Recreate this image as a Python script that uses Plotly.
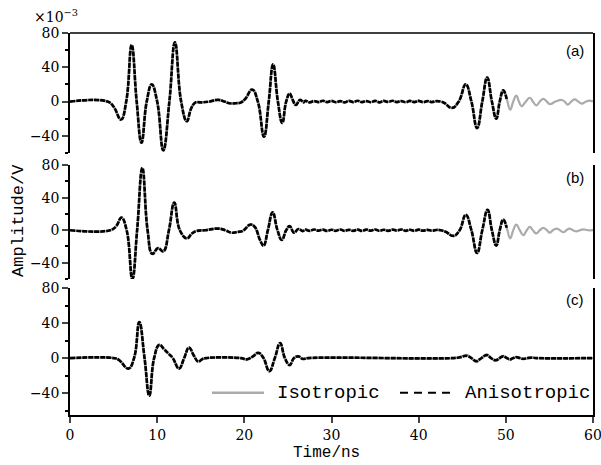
import plotly.graph_objects as go

# ---------------- data (amplitude in 1e-3 V, time in ns) ----------------
# Panel (a): anisotropic trace (0 - 50.1 ns); isotropic identical there, plus a tail to 60 ns
a_time = [0, 4.3, 5.0, 5.85, 6.45, 7.07, 7.65, 8.2, 8.8, 9.37, 10.0, 10.7, 11.4, 12.04, 12.75,
          13.4, 13.9, 14.4, 15.0, 16.0, 17.0, 17.7, 18.3, 19.0, 19.6, 20.1, 20.9, 21.55, 22.25,
          22.8, 23.3, 23.85, 24.35, 24.8, 25.2, 25.55, 25.9, 26.4, 26.8]
a_wave = [0, 0, -6, -21, 0, 66, 0, -48, 0, 20, 0, -57, 0, 69, 0,
          -23, -8, -1, -1, 0, 2, 0, -2, -2, -1, 3, 14, 0, -41,
          0, 43.5, 0, -25, 0, 9.4, 2, -4, 2, -1]
a_noise_time = [27.0, 27.5, 28.0, 28.5, 29.0, 29.5, 30.0, 30.5, 31.0, 31.5, 32.0, 32.5, 33.0, 33.5,
                34.0, 34.5, 35.0, 35.5, 36.0, 36.5, 37.0, 37.5, 38.0, 38.5, 39.0, 39.5, 40.0, 40.5,
                41.0, 41.5, 42.0, 42.5]
a_noise = [0.8, -0.9, 0.6, -0.7, 0.9, -0.6, 0.7, -0.8, 0.5, -0.9, 0.8, -0.6, 0.9, -0.7, 0.6, -0.8,
           0.7, -0.9, 0.8, -0.5, 0.9, -0.7, 0.6, -0.8, 0.7, -0.6, 0.8, -0.7, 0.5, -0.6, 0.4, 0]
a_late_time = [43.0, 43.8, 44.6, 45.4, 46.05, 46.7, 47.3, 47.86, 48.4, 48.9, 49.3, 49.7, 50.1]
a_late = [-2, -7.5, 0, 20, 0, -31, 0, 28, 0, -20, 0, 13, 3]
a_tail_time = [50.5, 50.85, 51.2, 51.5, 51.8, 52.3, 52.75, 53.1, 53.5, 53.9, 54.3, 54.7, 55.05,
               55.7, 56.4, 56.75, 57.1, 57.5, 57.9, 58.3, 58.7, 59.2, 59.6, 60.0]
a_tail = [-9.5, 0, 7, 0, -5.5, 0, 4.4, 0, -4.4, 0, 3.2, 0, -3,
          0, 1.8, 0, -3.5, 0, 2.5, 0, -2.4, 0, 1, 0]

# Panel (b)
b_time = [0, 4.6, 5.3, 5.9, 6.5, 7.15, 7.7, 8.3, 8.9, 9.45, 10.1, 10.7, 11.35, 11.96, 12.6,
          13.4, 14.0, 14.5, 15.5, 17.0, 17.8, 18.5, 19.3, 19.8, 20.7, 21.2, 21.8, 22.2, 22.7,
          23.25, 23.8, 24.3, 24.8, 25.2, 25.7, 26.2, 26.7]
b_wave = [0, 0, 5, 15.5, 0, -60, 0, 76.5, 0, -29, -22, -26, 0, 34, 0,
          -10, -4, -1, 0, 2, 0, -3, -2, -1, 7, 4, -12, -19, 0,
          22, 0, -12, 0, 5, -3, 1.5, -1]
b_noise_time = [27.0, 27.5, 28.0, 28.5, 29.0, 29.5, 30.0, 30.5, 31.0, 31.5, 32.0, 32.5, 33.0, 33.5,
                34.0, 34.5, 35.0, 35.5, 36.0, 36.5, 37.0, 37.5, 38.0, 38.5, 39.0, 39.5, 40.0, 40.5,
                41.0, 41.5, 42.0, 42.5]
b_noise = [0.7, -0.8, 0.9, -0.6, 0.8, -0.9, 0.6, -0.7, 0.9, -0.8, 0.5, -0.7, 0.8, -0.9, 0.7, -0.6,
           0.9, -0.8, 0.6, -0.7, 0.8, -0.5, 0.9, -0.7, 0.6, -0.8, 0.7, -0.6, 0.5, -0.5, 0.3, 0]
b_late_time = [43.1, 44.0, 44.7, 45.4, 46.05, 46.7, 47.3, 47.9, 48.4, 48.9, 49.3, 49.7, 50.1]
b_late = [-2, -7, 0, 19, 0, -28, 0, 25, 0, -19, 0, 13, 3]
b_tail_time = [50.5, 50.85, 51.2, 51.6, 52.0, 52.4, 52.75, 53.1, 53.5, 53.9, 54.3, 54.7, 55.05,
               55.4, 55.8, 56.2, 56.6, 56.95, 57.3, 57.7, 58.1, 58.5, 58.9, 59.4, 60.0]
b_tail = [-10, 0, 7, 0, -6, 0, 4, 0, -4, 0, 3, 0, -3,
          0, 2, 0, -2.5, 0, 2, 0, -1.5, 0, 1, 0, 0]

# Panel (c)
c_time = [0, 5.0, 5.6, 6.7, 7.35, 7.95, 8.55, 9.1, 9.65, 10.25, 10.8, 11.3, 11.8, 12.5, 13.1,
          13.65, 14.2, 14.7, 15.2, 15.6, 19.6, 20.3, 21.0, 21.6, 22.2, 22.86, 23.5, 24.1, 24.65,
          25.2, 25.7, 26.2, 26.7, 27.3, 44.0]
c_wave = [0, 0, -2, -12, 0, 41, 0, -43, 0, 15, 10, 5, 0, -12, 0,
          12, 3, -4, -1, 0, 0, -1.5, 2, 6, 0, -15, 0, 17, 0,
          -8, 0, 2, -1, 0, 0]
c_ripple_time = [44.8, 45.5, 46.05, 46.6, 47.2, 47.8, 48.3, 48.85, 49.3, 49.7, 50.1, 50.5,
                 50.85, 51.2, 51.6, 52.0, 52.5, 53.0, 53.5, 60.0]
c_ripple_aniso = [1, 2.6, 0, -3.5, 0, 3.4, 0, -2.5, 0, 2, 0, -1.5,
                  0, 1, 0, -1, 0, 0.5, 0, 0]
c_ripple_iso = [1.3, 3.6, 0, -4.5, 0, 4.3, 0, -3.2, 0, 2.5, 0, -1.8,
                0, 1.2, 0, -1, 0, 0.5, 0, 0]

panel_labels = ["(a)", "(b)", "(c)"]
y_ticks = [-40, 0, 40, 80]
x_ticks = [0, 10, 20, 30, 40, 50, 60]

# ---------------- assemble series ----------------
a_aniso_t = a_time + a_noise_time + a_late_time
a_aniso_v = a_wave + a_noise + a_late
a_iso_t = a_aniso_t + a_tail_time
a_iso_v = a_aniso_v + a_tail

b_aniso_t = b_time + b_noise_time + b_late_time
b_aniso_v = b_wave + b_noise + b_late
b_iso_t = b_aniso_t + b_tail_time
b_iso_v = b_aniso_v + b_tail

c_aniso_t = c_time + c_ripple_time
c_aniso_v = c_wave + c_ripple_aniso
c_iso_t = c_time + c_ripple_time
c_iso_v = c_wave + c_ripple_iso

GRAY = "#ababab"
BLACK = "#000000"

fig = go.Figure()
series = [("y", a_iso_t, a_iso_v, a_aniso_t, a_aniso_v),
          ("y2", b_iso_t, b_iso_v, b_aniso_t, b_aniso_v),
          ("y3", c_iso_t, c_iso_v, c_aniso_t, c_aniso_v)]
for yax, it, iv, at, av in series:
    fig.add_trace(go.Scatter(x=it, y=iv, xaxis="x", yaxis=yax, mode="lines",
                             line=dict(color=GRAY, width=2.2, shape="spline", smoothing=1.3),
                             name="Isotropic", showlegend=False, hoverinfo="skip"))
    fig.add_trace(go.Scatter(x=at, y=av, xaxis="x", yaxis=yax, mode="lines",
                             line=dict(color=BLACK, width=2.7, shape="spline", smoothing=1.3,
                                       dash="5px,1px"),
                             name="Anisotropic", showlegend=False, hoverinfo="skip"))

tickfont = dict(family="DejaVu Serif", size=14, color="black")
yaxis_common = dict(
    tickmode="array", tickvals=y_ticks, ticks="outside", ticklen=6, tickwidth=1.5,
    showline=True, linewidth=1.5, linecolor="black", mirror=True, automargin=False,
    showgrid=False, zeroline=False, tickfont=tickfont, anchor="x",
    ticklabeloverflow="allow",
    minor=dict(tickmode="array", tickvals=[-60, -20, 20, 60], ticks="outside",
               ticklen=3, tickwidth=1.5, tickcolor="black"),
)

fig.update_layout(
    width=601, height=465,
    margin=dict(l=70, r=8, t=33, b=50),
    paper_bgcolor="white", plot_bgcolor="white",
    showlegend=False,
    xaxis=dict(range=[0, 60], tickmode="array", tickvals=x_ticks, ticks="outside", ticklen=6,
               tickwidth=1.5, showline=True, linewidth=1.5, linecolor="black", automargin=False,
               ticklabeloverflow="allow",
               showgrid=False, zeroline=False, tickfont=tickfont, anchor="y3"),
    yaxis=dict(domain=[0.686, 1.0], range=[-60, 80], **yaxis_common),
    yaxis2=dict(domain=[0.356, 0.654], range=[-60, 80], **yaxis_common),
    yaxis3=dict(domain=[0.0, 0.3325], range=[-65, 80], **yaxis_common),
)

# top frame line of panel (a)
fig.add_shape(type="line", xref="paper", yref="paper", x0=0, x1=1, y0=1, y1=1,
              line=dict(color="black", width=1.5))

annotations = [
    dict(text="×10<sup>−3</sup>", x=-0.072, y=1.045, xref="paper", yref="paper",
         xanchor="left", yanchor="middle", showarrow=False,
         font=dict(family="DejaVu Serif", size=14, color="black")),
    dict(text="Amplitude/V", x=-0.1, y=0.51, xref="paper", yref="paper", textangle=-90,
         xanchor="center", yanchor="middle", showarrow=False,
         font=dict(family="Liberation Mono", size=17, color="black")),
    dict(text="Time/ns", x=0.49, y=-0.1, xref="paper", yref="paper",
         xanchor="center", yanchor="middle", showarrow=False,
         font=dict(family="Liberation Mono", size=16, color="black")),
]
for lab, yy in zip(panel_labels, [0.953, 0.623, 0.302]):
    annotations.append(dict(text=lab, x=0.987, y=yy, xref="paper", yref="paper",
                            xanchor="right", yanchor="middle", showarrow=False,
                            font=dict(family="Liberation Sans", size=15, color="black")))

# custom legend inside panel (c)
fig.add_shape(type="line", xref="paper", yref="paper", x0=0.2715, x1=0.371, y0=0.058, y1=0.058,
              line=dict(color=GRAY, width=2.5))
fig.add_shape(type="line", xref="paper", yref="paper", x0=0.631, x1=0.732, y0=0.058, y1=0.058,
              line=dict(color=BLACK, width=2, dash="8px,6px"))
annotations.append(dict(text="Isotropic", x=0.392, y=0.058, xref="paper", yref="paper",
                        xanchor="left", yanchor="middle", showarrow=False,
                        font=dict(family="Liberation Mono", size=19, color="black")))
annotations.append(dict(text="Anisotropic", x=0.752, y=0.058, xref="paper", yref="paper",
                        xanchor="left", yanchor="middle", showarrow=False,
                        font=dict(family="Liberation Mono", size=19, color="black")))
fig.update_layout(annotations=annotations)

# remove default page margin so the 601x465 figure fills the window exactly
fig.write_html("out.html", config={"displayModeBar": False},
               post_script="document.body.style.margin='0';document.body.style.overflow='hidden';")
